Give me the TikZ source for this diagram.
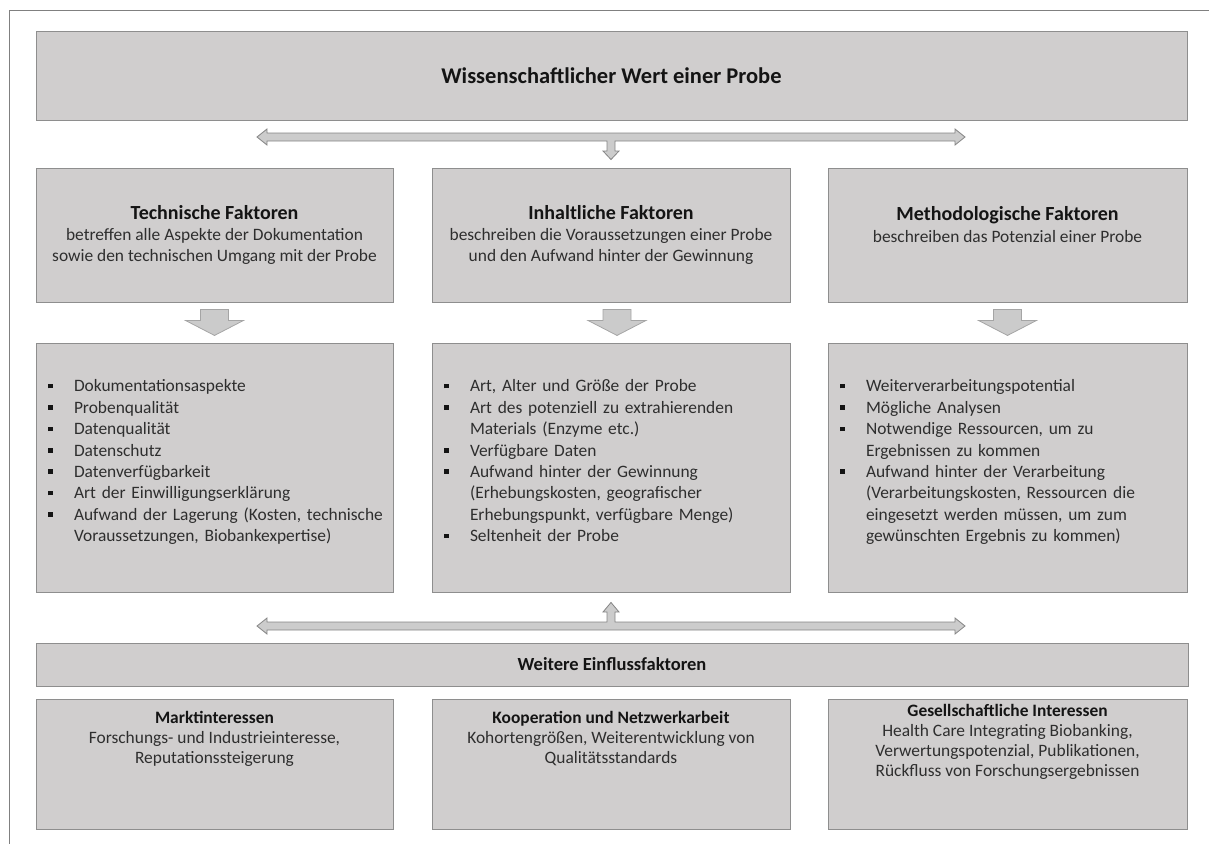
\documentclass[tikz,border=0pt]{standalone}
\usepackage{fontspec}
\setmainfont{Carlito}
\usetikzlibrary{calc}
\definecolor{boxfill}{HTML}{D0CECE}
\definecolor{boxline}{HTML}{8E8E8E}
\definecolor{arrfill}{HTML}{CCCCCC}
\definecolor{arrline}{HTML}{858585}
\definecolor{blkfill}{HTML}{CBCBCB}
\definecolor{blkline}{HTML}{A5A5A5}
\definecolor{txt}{HTML}{2E2E2E}
\definecolor{txtb}{HTML}{141414}
\definecolor{framecol}{HTML}{808080}
\newcommand{\myblt}{\makebox[26pt][l]{\textcolor{txtb}{\rule[3.5pt]{4.5pt}{4.5pt}}}}
\newcommand{\hd}[1]{{\bfseries\color{txtb}#1}}
\newcommand{\hdbig}[1]{{\fontsize{20}{21.4}\selectfont\bfseries\color{txtb}#1}}
\newcommand{\upshift}[2]{\raisebox{#1}[\height][\depth]{#2}}
\begin{document}
\begin{tikzpicture}[x=1pt,y=-1pt,
  box/.style={draw=boxline, fill=boxfill, line width=0.9pt, inner sep=0pt,
    text=txt, font=\fontsize{17.4}{21.4}\selectfont, align=center},
  listbox/.style={box, align=left, inner xsep=12pt, text width=#1, minimum height=249pt},
  lowbox/.style={box, font=\fontsize{17.4}{20}\selectfont, minimum height=130pt},
  dblarrow/.style={draw=arrline, fill=arrfill, line width=0.8pt, line join=miter},
  blkarrow/.style={draw=blkline, fill=blkfill, line width=0.8pt}]
\useasboundingbox (0,0) rectangle (1209,844);
% partial frame
\draw[framecol, line width=1pt] (1209,10) -- (9,10) -- (9,844);

% top box
\node[box, minimum width=1151pt, minimum height=89pt, font=\fontsize{22.5}{26}\selectfont] (top) at (611.5,75.5)
  {\hd{Wissenschaftlicher Wert einer Probe}};

% row 2
\node[box, minimum width=357pt, minimum height=134pt] (l2) at (214.5,235)
  {\hdbig{Technische Faktoren}\\betreffen alle Aspekte der Dokumentation\\sowie den technischen Umgang mit der Probe};
\node[box, minimum width=358pt, minimum height=134pt] (m2) at (611,235)
  {\hdbig{Inhaltliche Faktoren}\\beschreiben die Voraussetzungen einer Probe\\und den Aufwand hinter der Gewinnung};
\node[box, minimum width=359pt, minimum height=134pt] (r2) at (1007.5,235)
  {\hdbig{Methodologische Faktoren}\\beschreiben das Potenzial einer Probe\\\mbox{}};

% row 3
\node[listbox=333pt] (l3) at (214.5,467.5)
  {\upshift{5pt}{\begin{tabular}{@{}l@{}l@{}}
   \myblt & Dokumentationsaspekte\\
   \myblt & Probenqualität\\
   \myblt & Datenqualität\\
   \myblt & Datenschutz\\
   \myblt & Datenverfügbarkeit\\
   \myblt & Art der Einwilligungserklärung\\
   \myblt & Aufwand der Lagerung (Kosten, technische\\
          & Voraussetzungen, Biobankexpertise)
   \end{tabular}}};
\node[listbox=334pt] (m3) at (611,467.5)
  {\upshift{5pt}{\begin{tabular}{@{}l@{}l@{}}
   \myblt & Art, Alter und Größe der Probe\\
   \myblt & Art des potenziell zu extrahierenden\\
          & Materials (Enzyme etc.)\\
   \myblt & Verfügbare Daten\\
   \myblt & Aufwand hinter der Gewinnung\\
          & (Erhebungskosten, geografischer\\
          & Erhebungspunkt, verfügbare Menge)\\
   \myblt & Seltenheit der Probe
   \end{tabular}}};
\node[listbox=335pt] (r3) at (1007.5,467.5)
  {\upshift{5pt}{\begin{tabular}{@{}l@{}l@{}}
   \myblt & Weiterverarbeitungspotential\\
   \myblt & Mögliche Analysen\\
   \myblt & Notwendige Ressourcen, um zu\\
          & Ergebnissen zu kommen\\
   \myblt & Aufwand hinter der Verarbeitung\\
          & (Verarbeitungskosten, Ressourcen die\\
          & eingesetzt werden müssen, um zum\\
          & gewünschten Ergebnis zu kommen)
   \end{tabular}}};

% further factors
\node[box, minimum width=1152pt, minimum height=43pt, font=\fontsize{18.5}{21}\selectfont] (wf) at (612,664.5)
  {\hd{Weitere Einflussfaktoren}};

% bottom row
\node[lowbox, minimum width=357pt] (l4) at (214.5,764)
  {\upshift{25pt}{\begin{tabular}{@{}c@{}}\hd{Marktinteressen}\\Forschungs- und Industrieinteresse,\\Reputationssteigerung\end{tabular}}};
\node[lowbox, minimum width=358pt] (m4) at (611,764)
  {\upshift{25pt}{\begin{tabular}{@{}c@{}}\hd{Kooperation und Netzwerkarbeit}\\Kohortengrößen, Weiterentwicklung von\\Qualitätsstandards\end{tabular}}};
\node[lowbox, minimum width=359pt] (r4) at (1007.5,764)
  {\upshift{22pt}{\begin{tabular}{@{}c@{}}\hd{Gesellschaftliche Interessen}\\Health Care Integrating Biobanking,\\Verwertungspotenzial, Publikationen,\\Rückfluss von Forschungsergebnissen\end{tabular}}};

% block arrows row 2 -> row 3
\foreach \n/\dx in {l2/0, m2/6, r2/0}{
  \draw[blkarrow] ($(\n.south)+(\dx,0)$) ++(-14,7) -- ++(28,0) -- ++(0,11) -- ++(15,0)
    -- ++(-29,15) -- ++(-29,-15) -- ++(15,0) -- cycle;
}

% top double arrow with stub down to middle column
\coordinate (tl) at (257,137);
\draw[dblarrow] (tl) -- ++(10,-8) -- ++(0,4) -- (955,133) -- ++(0,-4) -- (965,137)
  -- (955,145) -- ++(0,-4) -- (615,141) -- (615,151) -- (619,151) -- ($(m2.north)+(0,-8)$)
  -- (603,151) -- (607,151) -- (607,141) -- (267,141) -- ++(0,4) -- cycle;

% bottom double arrow with stub up to middle column
\coordinate (bl) at (257,626);
\draw[dblarrow] (bl) -- ++(10,-8) -- ++(0,4) -- (607,622) -- (607,612) -- (603,612)
  -- ($(m3.south)+(0,10)$) -- (619,612) -- (615,612) -- (615,622)
  -- (955,622) -- ++(0,-4) -- (965,626) -- (955,634) -- ++(0,-4) -- (267,630) -- ++(0,4) -- cycle;
\end{tikzpicture}
\end{document}
